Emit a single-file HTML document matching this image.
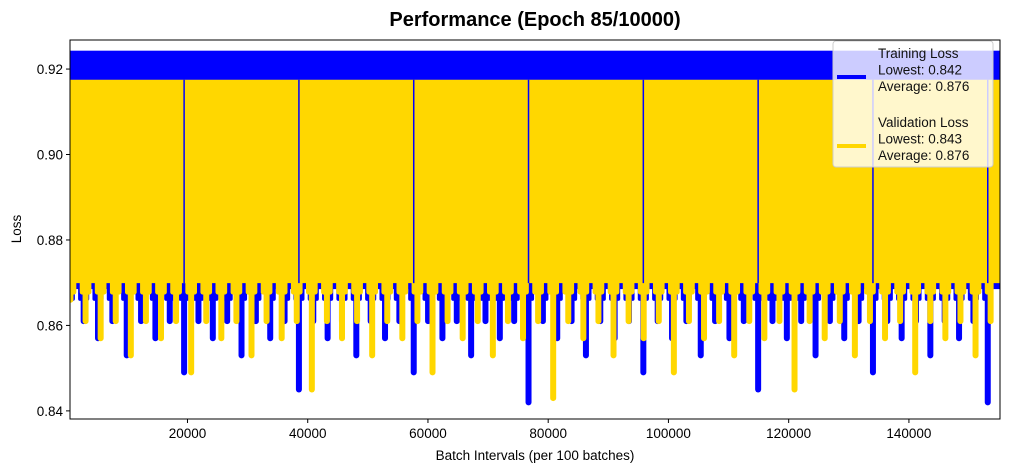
<!DOCTYPE html>
<html><head><meta charset="utf-8"><style>
body{margin:0;background:#fff;}
svg{display:block;font-family:"Liberation Sans",sans-serif;}
</style></head><body>
<svg id="chart" width="1010" height="472">
<text x="535" y="26" text-anchor="middle" font-size="20" font-weight="bold">Performance (Epoch 85/10000)</text>
<text x="535" y="460" text-anchor="middle" font-size="13.5">Batch Intervals (per 100 batches)</text>
<text transform="translate(21,229) rotate(-90)" text-anchor="middle" font-size="13.5">Loss</text>
<defs><clipPath id="clip"><rect x="70" y="40" width="930" height="379"/></clipPath></defs>
<g id="plot" clip-path="url(#clip)"></g>
<g id="axes"></g>
</svg>
<script>
const xDomain=[460,155150];
const yDomain=[0.8381,0.9268];
const xTicks=[20000,40000,60000,80000,100000,120000,140000];
const yTicks=[0.84,0.86,0.88,0.90,0.92];
const trainBand=[0.8685,0.9243];
const valBand=[0.8699,0.9175];
const trainNubValue=0.8662;
const valNubValue=0.8678;
const trainDipBatch=[345,2732,5119,7506,9893,12280,14667,17054,19441,21828,24215,26602,28989,31376,33763,36150,38537,40924,43311,45698,48085,50472,52859,55246,57633,60020,62407,64794,67181,69568,71955,74342,76729,79116,81503,83890,86277,88664,91051,93438,95825,98212,100599,102986,105373,107760,110147,112534,114921,117308,119695,122082,124469,126856,129243,131630,134017,136404,138791,141178,143565,145952,148339,150726,153113];
const trainDipValue=[0.866,0.861,0.857,0.861,0.853,0.861,0.857,0.861,0.849,0.861,0.857,0.861,0.853,0.861,0.857,0.861,0.845,0.861,0.857,0.861,0.853,0.861,0.857,0.861,0.849,0.861,0.857,0.861,0.853,0.861,0.857,0.861,0.842,0.861,0.857,0.861,0.853,0.861,0.857,0.861,0.849,0.861,0.857,0.861,0.853,0.861,0.857,0.861,0.845,0.861,0.857,0.861,0.853,0.861,0.857,0.861,0.849,0.861,0.857,0.861,0.853,0.861,0.857,0.861,0.842];
const valDipBatch=[542,3051,5560,8069,10578,13087,15596,18105,20614,23123,25632,28141,30650,33159,35668,38177,40686,43195,45704,48213,50722,53231,55740,58249,60758,63267,65776,68285,70794,73303,75812,78321,80830,83339,85848,88357,90866,93375,95884,98393,100902,103411,105920,108429,110938,113447,115956,118465,120974,123483,125992,128501,131010,133519,136028,138537,141046,143555,146064,148573,151082,153591];
const valDipValue=[0.866,0.861,0.857,0.861,0.853,0.861,0.857,0.861,0.849,0.861,0.857,0.861,0.853,0.861,0.857,0.861,0.845,0.861,0.857,0.861,0.853,0.861,0.857,0.861,0.849,0.861,0.857,0.861,0.853,0.861,0.857,0.861,0.843,0.861,0.857,0.861,0.853,0.861,0.857,0.861,0.849,0.861,0.857,0.861,0.853,0.861,0.857,0.861,0.845,0.861,0.857,0.861,0.853,0.861,0.857,0.861,0.849,0.861,0.857,0.861,0.853,0.861];
const legendLabels=[["Training Loss","Lowest: 0.842","Average: 0.876"],["Validation Loss","Lowest: 0.843","Average: 0.876"]];

const L=70,R=1000,T=40,B=419;
const xs=b=>L+(b-xDomain[0])/(xDomain[1]-xDomain[0])*(R-L);
const ys=v=>B-(v-yDomain[0])/(yDomain[1]-yDomain[0])*(B-T);
const NS="http://www.w3.org/2000/svg";
function mk(tag,attrs,parent){const e=document.createElementNS(NS,tag);for(const k in attrs)e.setAttribute(k,attrs[k]);parent.appendChild(e);return e;}
const plot=document.getElementById('plot'),axes=document.getElementById('axes'),svg=document.getElementById('chart');

let r=mk('rect',{x:xs(xDomain[0]),y:ys(trainBand[1]),width:xs(xDomain[1])-xs(xDomain[0]),height:ys(trainBand[0])-ys(trainBand[1]),fill:'#0000ff'},plot);


trainDipBatch.forEach((b,i)=>{
  const l=mk('line',{x1:xs(b),x2:xs(b),y1:ys(trainBand[0]),y2:ys(trainDipValue[i]),stroke:'#0000ff','stroke-width':6,'stroke-linecap':'round'},plot);
  
  
  if(i<trainDipBatch.length-1){
    const m=(b+trainDipBatch[i+1])/2;
    [m-600,m+600].forEach(mb=>{
      const n=mk('line',{x1:xs(mb),x2:xs(mb),y1:ys(trainBand[0]),y2:ys(trainNubValue),stroke:'#0000ff','stroke-width':4,'stroke-linecap':'round'},plot);
      
      
    });
  }
});
r=mk('rect',{x:xs(xDomain[0]),y:ys(valBand[1]),width:xs(xDomain[1])-xs(xDomain[0]),height:ys(valBand[0])-ys(valBand[1]),fill:'#ffd700'},plot);


valDipBatch.forEach((b,i)=>{
  const l=mk('line',{x1:xs(b),x2:xs(b),y1:ys(valBand[0]),y2:ys(valDipValue[i]),stroke:'#ffd700','stroke-width':6,'stroke-linecap':'round'},plot);
  
  
  if(i<valDipBatch.length-1){
    const m=(b+valDipBatch[i+1])/2;
    [m-700,m+700].forEach(mb=>{
      const n=mk('line',{x1:xs(mb),x2:xs(mb),y1:ys(valBand[0]),y2:ys(valNubValue),stroke:'#ffd700','stroke-width':5,'stroke-linecap':'round'},plot);
      
      
    });
  }
});
trainDipBatch.forEach((b,i)=>{
  if(trainDipValue[i]<0.85){
    const l=mk('line',{x1:xs(b),x2:xs(b),y1:ys(valBand[1]),y2:ys(valBand[0]),stroke:'#0000ff','stroke-width':1.5},plot);
    
    
  }
});
const fr=mk('rect',{x:L,y:T,width:R-L,height:B-T,fill:'none',stroke:'#000','stroke-width':1},axes);


xTicks.forEach(t=>{
  const x=xs(t);
  const tk=mk('line',{x1:x,x2:x,y1:B,y2:B+4,stroke:'#000'},axes);
  
  
  const tx=mk('text',{x:x,y:B+19,'text-anchor':'middle','font-size':13.5},axes);
  tx.textContent=t;
  
  
});
yTicks.forEach(t=>{
  const y=ys(t);
  const tk=mk('line',{x1:L-4,x2:L,y1:y,y2:y,stroke:'#000'},axes);
  
  
  const tx=mk('text',{x:L-7,y:y+5,'text-anchor':'end','font-size':13.5},axes);
  tx.textContent=t.toFixed(2);
  
  
});
const lg=mk('g',{},svg);


mk('rect',{x:833,y:41,width:160,height:126,rx:3,fill:'rgba(255,255,255,0.8)',stroke:'#ccc'},lg);
const colors=['#0000ff','#ffd700'];
legendLabels.forEach((lines,i)=>{
  const base=53+i*69;
  const h=mk('line',{x1:837,x2:866,y1:base+24,y2:base+24,stroke:colors[i],'stroke-width':4},lg);
  
  
  lines.forEach((s,j)=>{
    const tx=mk('text',{x:878,y:base+5+j*16.5,'font-size':13.5,fill:'#111'},lg);
    tx.textContent=s;
    
    
  });
});
</script>
</body></html>
